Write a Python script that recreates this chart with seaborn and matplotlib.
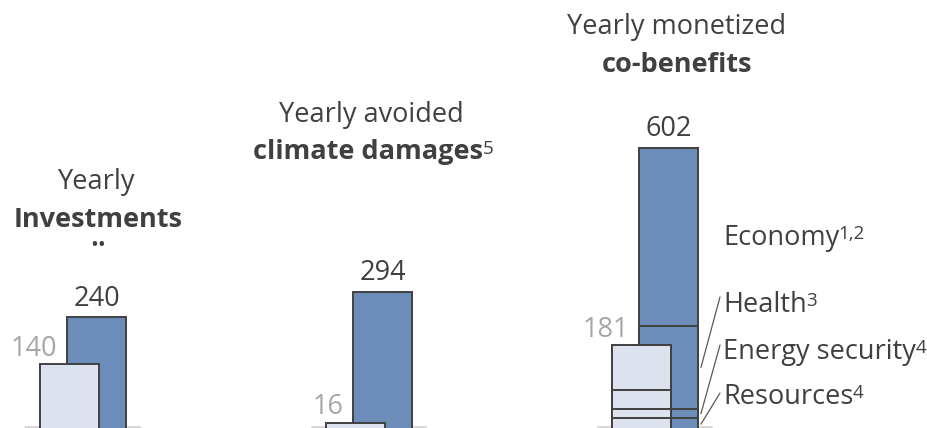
import numpy as np
import pandas as pd
import matplotlib
matplotlib.use('Agg')
import matplotlib.pyplot as plt
import seaborn as sns

sns.set_theme(style='white')
plt.rcParams['font.family'] = ['Open Sans', 'DejaVu Sans']

# data
group_pos = [0, 1, 2]
light_totals = [140, 16, 181]
dark_totals = [240, 294, 602]
cobenefit_cats = ['Resources', 'Energy security', 'Health', 'Economy']
cobenefit_sups = ['4', '4', '3', '1,2']
light_cobenefits = [25, 20, 40, 96]
dark_cobenefits = [25, 20, 177, 380]

DARK = '#6c8cba'
LIGHT = '#dde3ee'
EDGE = '#404040'
TEXT = '#404040'
GREY_TXT = '#a6a6a6'
BAR_W = 0.205
LIGHT_SHIFT = -0.094
FS = 19.5
SUP = 13.5

W, H = 928, 428


def fx(px):
    return px / W


def fy(py):
    return 1 - py / H


def passes(totals, parts, shift):
    # tallest cumulative value first, smaller ones drawn on top -> segment lines
    rows = [pd.DataFrame({'x': [p + shift for p in group_pos], 'v': totals})]
    cum = np.cumsum(parts)[::-1]
    for c in cum[1:]:
        rows.append(pd.DataFrame({'x': [group_pos[2] + shift], 'v': [c]}))
    return rows


fig = plt.figure(figsize=(W / 100, H / 100), dpi=100)
ax = fig.add_axes([0, 0, 1, 1])

for i in group_pos:
    ax.hlines(6.4, i - 0.25, i + 0.155, color='#d9d9d9', lw=1.5, zorder=0)

for d in passes(dark_totals, dark_cobenefits, 0):
    sns.barplot(data=d, x='x', y='v', native_scale=True, width=BAR_W, color=DARK,
                saturation=1, edgecolor=EDGE, linewidth=1.4, errorbar=None, ax=ax)
for d in passes(light_totals, light_cobenefits, LIGHT_SHIFT):
    sns.barplot(data=d, x='x', y='v', native_scale=True, width=BAR_W, color=LIGHT,
                saturation=1, edgecolor=EDGE, linewidth=1.4, errorbar=None, ax=ax)

# value labels
for i, v in zip(group_pos, dark_totals):
    ax.annotate(str(v), xy=(i, v), xytext=(0, 8.5), textcoords='offset points',
                ha='center', va='baseline', fontsize=FS, color=TEXT)
for i, v in zip(group_pos, light_totals):
    ax.annotate(str(v), xy=(i - BAR_W / 2 - 0.035, v), xytext=(0, 6), textcoords='offset points',
                ha='right', va='baseline', fontsize=FS, color=GREY_TXT)

# titles
ax.text(fx(97), fy(182), 'Yearly', transform=ax.transAxes, ha='center', va='center', fontsize=FS, color=TEXT)
ax.text(fx(98), fy(220), 'Investments', transform=ax.transAxes, ha='center', va='center',
        fontsize=FS, fontweight='bold', color=TEXT)
ax.text(fx(98), fy(246), '••', transform=ax.transAxes, ha='center', va='center',
        fontsize=15, color=TEXT)

ax.text(fx(371), fy(115), 'Yearly avoided', transform=ax.transAxes, ha='center', va='center', fontsize=FS, color=TEXT)
t = ax.text(fx(368), fy(152), 'climate damages', transform=ax.transAxes, ha='center', va='center',
            fontsize=FS, fontweight='bold', color=TEXT)
ax.annotate('5', xy=(1, 1), xycoords=t, xytext=(-0.5, -1), textcoords='offset points',
            ha='left', va='top', fontsize=SUP, color=TEXT)

ax.text(fx(677), fy(27), 'Yearly monetized', transform=ax.transAxes, ha='center', va='center', fontsize=FS, color=TEXT)
ax.text(fx(677), fy(65), 'co-benefits', transform=ax.transAxes, ha='center', va='center',
        fontsize=FS, fontweight='bold', color=TEXT)

# category labels with leader lines
label_y = [397, 352, 305, 238]
line_top = [393, 345, 297, None]
cum = np.cumsum(dark_cobenefits)
mids = cum - np.array(dark_cobenefits) / 2
for name, sup, ly, lt, m in zip(cobenefit_cats, cobenefit_sups, label_y, line_top, mids):
    t = ax.text(fx(723), fy(ly), name, transform=ax.transAxes, ha='left', va='center', fontsize=FS, color=TEXT)
    ax.annotate(sup, xy=(1, 1), xycoords=t, xytext=(-0.5, -1), textcoords='offset points',
                ha='left', va='top', fontsize=SUP, color=TEXT)
    if lt is not None:
        ax.annotate('', xy=(2 + BAR_W / 2 + 0.011, m), xycoords='data',
                    xytext=(fx(720), fy(lt)), textcoords='axes fraction',
                    arrowprops=dict(arrowstyle='-', color='#595959', lw=0.9, shrinkA=0, shrinkB=0))

ax.set_xlim(-96.5 / 286, (W - 96.5) / 286)
ax.set_ylim(4.3, 916.9)
ax.set_axis_off()

fig.savefig('out.png', dpi=100, facecolor='white')
